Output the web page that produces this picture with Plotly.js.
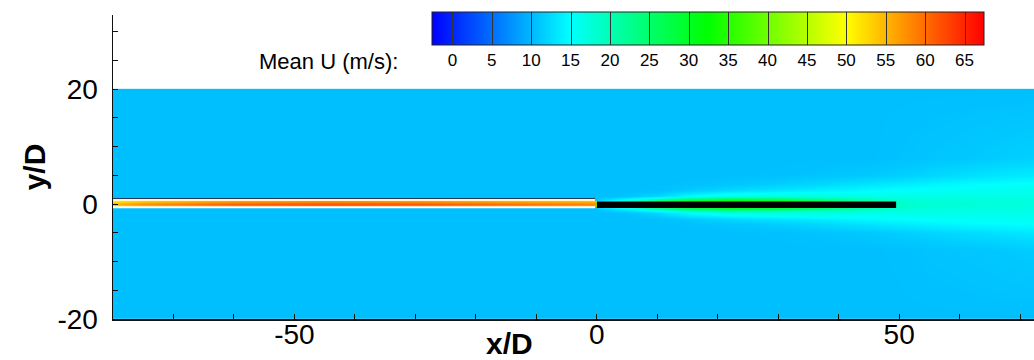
<!DOCTYPE html>
<html>
<head>
<meta charset="utf-8">
<script src="https://cdn.plot.ly/plotly-3.0.1.min.js"></script>
<style>html,body{margin:0;padding:0;background:#fff;}#chart{width:1034px;height:360px;}</style>
</head>
<body>
<div id="chart"></div>
<script>
// ---- grid stations (x/D, y/D) ----
const xPos = [-80, -75, -60, -45, -30, -15, -0.3, 0.3, 5, 10, 15, 22, 30, 38, 45, 50, 55, 62, 70, 75];
const yPos = [-20, -19.9, -8, -5, -3.5, -2.5, -1.5, -1.0, -0.7, -0.35, 0.1, 0.5, 0.75, 1.0, 1.5, 2.5, 3.5, 5, 8, 19.9, 20];

// ---- Mean U (m/s), one row per y station: 7 pipe-side values then 13 wake-side values ----
const u_m20   = [10.5,10.5,10.5,10.5,10.5,10.5,10.5, 10.5,10.5,10.5,10.5,10.5,10.5,10.5,10.5,10.5,10.5,10.5,10.5,10.5];
const u_m19_9 = [10.5,10.5,10.5,10.5,10.5,10.5,10.5, 10.5,10.5,10.5,10.5,10.5,10.5,10.5,10.5,10.5,10.5,10.5,10.5,10.5];
const u_m8    = [10.5,10.5,10.5,10.5,10.5,10.5,10.5, 10.5,10.5,10.5,10.5,10.5,10.5,10.5,10.5,10.6,10.8,11.0,11.3,11.5];
const u_m5    = [10.5,10.5,10.5,10.5,10.5,10.5,10.5, 10.5,10.5,10.5,10.5,10.5,10.6,10.9,11.2,11.6,12.0,12.6,13.2,13.6];
const u_m3_5  = [10.5,10.5,10.5,10.5,10.5,10.5,10.5, 10.5,10.5,10.5,10.6,11.0,11.6,12.4,13.1,13.6,14.1,14.6,14.9,15.1];
const u_m2_5  = [10.5,10.5,10.5,10.5,10.5,10.5,10.5, 10.5,10.5,10.6,11.3,12.3,13.2,14.0,14.6,15.0,15.3,15.6,15.8,15.8];
const u_m1_5  = [10.5,10.5,10.5,10.5,10.5,10.5,10.5, 10.5,10.8,12.0,14.5,16.5,17.0,16.8,16.5,16.3,16.3,16.3,16.3,16.2];
const u_m1_0  = [10.5,10.5,10.5,10.5,10.5,10.5,10.5, 11.0,13.0,16.5,21.0,23.5,22.5,20.0,18.2,17.2,16.9,16.7,16.6,16.4];
const u_m0_7  = [10.5,10.5,10.5,10.5,10.5,10.5,10.5, 12.0,16.0,22.0,27.0,30.0,28.0,24.0,20.5,18.0,17.4,17.1,16.9,16.7];
const u_m0_35 = [52.0,54.5,58.0,59.0,58.5,57.0,56.0, 14.0,19.0,25.0,30.0,32.0,30.0,25.0,21.0,18.5,17.8,17.4,17.1,16.9];
const u_p0_1  = [55.0,57.5,61.0,62.0,61.5,60.0,58.5, 14.0,19.0,25.0,30.0,32.0,30.0,25.0,21.0,18.5,17.8,17.5,17.2,17.0];
const u_p0_5  = [51.0,53.0,56.0,57.0,56.5,55.0,54.0, 14.0,19.0,25.0,30.0,32.0,30.0,25.0,21.0,18.5,17.8,17.4,17.2,17.0];
const u_p0_75 = [10.5,10.5,10.5,10.5,10.5,10.5,10.5, 12.0,16.0,22.0,27.0,30.0,28.0,24.0,20.5,18.0,17.4,17.2,17.0,16.8];
const u_p1_0  = [10.5,10.5,10.5,10.5,10.5,10.5,10.5, 11.0,13.0,16.5,21.0,23.5,22.5,20.0,18.2,17.2,17.0,16.9,16.8,16.6];
const u_p1_5  = [10.5,10.5,10.5,10.5,10.5,10.5,10.5, 10.5,10.8,12.0,14.5,16.5,17.0,16.8,16.5,16.4,16.5,16.5,16.5,16.4];
const u_p2_5  = [10.5,10.5,10.5,10.5,10.5,10.5,10.5, 10.5,10.5,10.6,11.3,12.3,13.2,14.0,14.6,15.0,15.4,15.7,16.0,16.0];
const u_p3_5  = [10.5,10.5,10.5,10.5,10.5,10.5,10.5, 10.5,10.5,10.5,10.6,11.0,11.6,12.4,13.1,13.6,14.1,14.7,15.1,15.3];
const u_p5    = [10.5,10.5,10.5,10.5,10.5,10.5,10.5, 10.5,10.5,10.5,10.5,10.5,10.6,10.9,11.2,11.6,12.1,12.8,13.4,13.8];
const u_p8    = [10.5,10.5,10.5,10.5,10.5,10.5,10.5, 10.5,10.5,10.5,10.5,10.5,10.5,10.5,10.5,10.7,10.9,11.2,11.6,11.9];
const u_p19_9 = [10.5,10.5,10.5,10.5,10.5,10.5,10.5, 10.5,10.5,10.5,10.5,10.5,10.5,10.5,10.5,10.5,10.5,10.5,10.5,10.5];
const u_p20   = [10.5,10.5,10.5,10.5,10.5,10.5,10.5, 10.5,10.5,10.5,10.5,10.5,10.5,10.5,10.5,10.5,10.5,10.5,10.5,10.5];

const meanU = [u_m20, u_m19_9, u_m8, u_m5, u_m3_5, u_m2_5, u_m1_5, u_m1_0, u_m0_7, u_m0_35,
               u_p0_1, u_p0_5, u_p0_75, u_p1_0, u_p1_5, u_p2_5, u_p3_5, u_p5, u_p8, u_p19_9, u_p20];

// ---- geometry ----
const rodX = [0, 49.5];            // black body downstream of the nozzle
const rodY = [-0.12, -0.12];
const pipeX = [-80, -0.3];         // nozzle walls
const pipeUpperY = [0.72, 0.72];
const pipeLowerY = [-0.55, -0.55];
const pipeEdgeY = [0.97, 0.97];

// ---- axis tick labels ----
const xTickVals = [-50, 0, 50];
const xTickText = ['-50', '0', '50'];
const yTickVals = [-20, 0, 20];
const yTickText = ['-20', '0', '20'];

// ---- colour legend ----
const uMin = -2.6, uMax = 67.45;
const cbTicks = [0, 5, 10, 15, 20, 25, 30, 35, 40, 45, 50, 55, 60, 65];
const cbLabels = ['0','5','10','15','20','25','30','35','40','45','50','55','60','65'];

const rainbow = [[0, 'rgb(0,0,255)'], [0.25, 'rgb(0,255,255)'], [0.5, 'rgb(0,255,0)'],
                 [0.75, 'rgb(255,255,0)'], [1, 'rgb(255,0,0)']];
const FONT = 'Liberation Sans, Arial, Helvetica, sans-serif';

const field = {
  type: 'heatmap', x: xPos, y: yPos, z: meanU,
  colorscale: rainbow, zmin: uMin, zmax: uMax, zsmooth: 'best',
  showscale: false, hoverinfo: 'skip'
};
const legendTrace = {
  type: 'contour', x: xPos, y: yPos, z: meanU,
  colorscale: rainbow, zmin: uMin, zmax: uMax, opacity: 0,
  autocontour: false,
  contours: {start: 0, end: 65, size: 5, coloring: 'heatmap', showlines: true},
  line: {color: '#333', width: 1, smoothing: 0},
  hoverinfo: 'skip', showscale: true,
  colorbar: {
    orientation: 'h', x: 0.6459, xanchor: 'center', y: 1.011, yanchor: 'top',
    len: 552, lenmode: 'pixels', thickness: 33, thicknessmode: 'pixels',
    outlinewidth: 1, outlinecolor: '#222', xpad: 0, ypad: 0,
    tickmode: 'array', tickvals: cbTicks, ticktext: cbLabels, ticks: '',
    tickfont: {family: FONT, size: 17, color: '#000'}
  }
};
const pipeEdge = {type: 'scatter', mode: 'lines', x: pipeX, y: pipeEdgeY,
  line: {color: '#2a3a5a', width: 1}, hoverinfo: 'skip'};
const pipeUpper = {type: 'scatter', mode: 'lines', x: pipeX, y: pipeUpperY,
  line: {color: '#fff6c8', width: 2}, hoverinfo: 'skip'};
const pipeLower = {type: 'scatter', mode: 'lines', x: pipeX, y: pipeLowerY,
  line: {color: '#ffffff', width: 2}, hoverinfo: 'skip'};
const rod = {type: 'scatter', mode: 'lines', x: rodX, y: rodY,
  line: {color: '#000000', width: 6.5}, hoverinfo: 'skip'};

const axisCommon = {
  showline: true, linecolor: '#111', linewidth: 1.5, mirror: false,
  showgrid: false, zeroline: false,
  ticks: 'inside', ticklen: 5, tickwidth: 1, tickcolor: '#111',
  tickfont: {family: FONT, size: 28, color: '#000'}
};

const layout = {
  width: 1034, height: 360,
  margin: {l: 113, r: 0, t: 15, b: 41, pad: 0},
  paper_bgcolor: '#fff', plot_bgcolor: '#fff',
  showlegend: false,
  xaxis: Object.assign({}, axisCommon, {
    range: [-80, 72.3], tickmode: 'array', tickvals: xTickVals, ticktext: xTickText,
    minor: {tickmode: 'linear', tick0: 0, dtick: 10, ticks: 'inside', ticklen: 5, tickcolor: '#111', tickwidth: 1},
    ticklabelstandoff: -10
  }),
  yaxis: Object.assign({}, axisCommon, {
    range: [-20, 32.9], tickmode: 'array', tickvals: yTickVals, ticktext: yTickText,
    minor: {tickmode: 'linear', tick0: 0, dtick: 5, ticks: 'inside', ticklen: 5, tickcolor: '#111', tickwidth: 1},
    ticklabelstandoff: 8,
    title: {text: '<b>y/D</b>', font: {family: FONT, size: 30, color: '#000'}, standoff: 3}
  }),
  annotations: [
    {text: 'Mean U (m/s):', xref: 'paper', yref: 'paper', x: 0.3114, y: 0.8454,
     xanchor: 'right', yanchor: 'middle', showarrow: false,
     font: {family: FONT, size: 22, color: '#000'}},
    {text: '<b>x/D</b>', xref: 'paper', yref: 'paper', x: 0.4309, y: -0.079,
     xanchor: 'center', yanchor: 'middle', showarrow: false,
     font: {family: FONT, size: 30, color: '#000'}}
  ]
};

Plotly.newPlot('chart', [field, legendTrace, pipeEdge, pipeUpper, pipeLower, rod], layout,
  {staticPlot: true, displayModeBar: false});
</script>
</body>
</html>
